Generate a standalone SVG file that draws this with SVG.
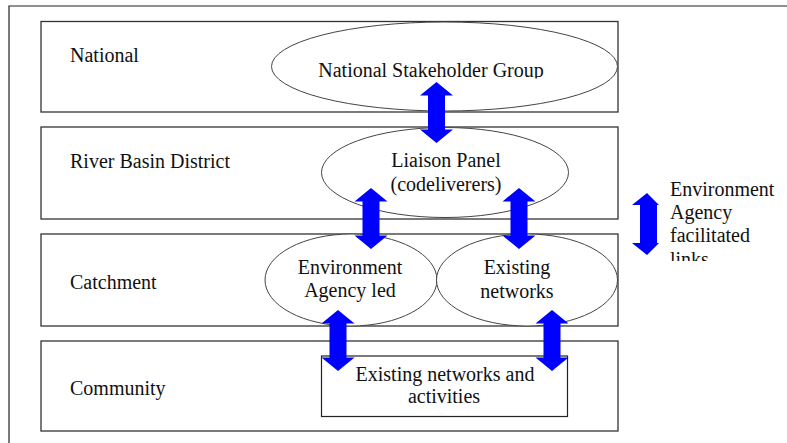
<svg xmlns="http://www.w3.org/2000/svg" width="787" height="443" viewBox="0 0 787 443">
<style>
  .band { fill: #fff; stroke: #333; stroke-width: 1.3; }
  .ell { fill: #fff; stroke: #444; stroke-width: 1; }
  .box { fill: #fff; stroke: #222; stroke-width: 1.2; }
  text { font-family: "Liberation Serif", "Times New Roman", serif; font-size: 20px; fill: #111; }
  .c { text-anchor: middle; }
  .arr { fill: #0000ff; }
</style>
<defs>
  <path id="dbl" d="M0,0 L16.5,13.5 L8.5,13.5 L8.5,47.5 L16.5,47.5 L0,61 L-16.5,47.5 L-8.5,47.5 L-8.5,13.5 L-16.5,13.5 Z"/>
  <clipPath id="clipNSG"><rect x="0" y="0" width="787" height="78.5"/></clipPath>
  <clipPath id="clipLeg"><rect x="660" y="170" width="127" height="91"/></clipPath>
</defs>
<rect width="787" height="443" fill="#fff"/>
<g id="frame">
  <path d="M9,443 L9,6 L787,6" fill="none" stroke="#222" stroke-width="1.2"/>
</g>
<g id="national">
  <rect class="band" x="41" y="21.5" width="577" height="90.5"/>
  <text x="70" y="62">National</text>
</g>
<g id="rbd">
  <rect class="band" x="41" y="127" width="577" height="92"/>
  <text x="70" y="168">River Basin District</text>
</g>
<g id="catchment">
  <rect class="band" x="41" y="234" width="577" height="92"/>
  <text x="70" y="289">Catchment</text>
</g>
<g id="community">
  <rect class="band" x="41" y="341" width="577" height="90"/>
  <text x="70" y="395">Community</text>
</g>
<g id="nsg">
  <ellipse class="ell" cx="444.5" cy="66.5" rx="173" ry="44.5"/>
  <text class="c" x="431" y="77" clip-path="url(#clipNSG)">National Stakeholder Group</text>
</g>
<g id="liaison">
  <ellipse class="ell" cx="445" cy="172.5" rx="123.5" ry="45"/>
  <text class="c" x="446" y="167">Liaison Panel</text>
  <text class="c" x="446" y="191">(codeliverers)</text>
</g>
<g id="ea-led">
  <ellipse class="ell" cx="351" cy="280" rx="86" ry="46"/>
  <text class="c" x="350" y="274">Environment</text>
  <text class="c" x="350" y="297">Agency led</text>
</g>
<g id="existing">
  <ellipse class="ell" cx="527" cy="280" rx="90.5" ry="46"/>
  <text class="c" x="517" y="274">Existing</text>
  <text class="c" x="517" y="298">networks</text>
</g>
<g id="community-box">
  <rect class="box" x="321.5" y="356" width="246" height="60.5"/>
  <text class="c" x="445" y="381">Existing networks and</text>
  <text class="c" x="444" y="403">activities</text>
</g>
<g id="connectors">
  <use href="#dbl" class="arr" x="436.5" y="82"/>
  <use href="#dbl" class="arr" x="371" y="188"/>
  <use href="#dbl" class="arr" x="519" y="188"/>
  <use href="#dbl" class="arr" x="338" y="310"/>
  <use href="#dbl" class="arr" x="552" y="310"/>
</g>
<g id="legend">
  <path class="arr" d="M647,193 L659,205 L657,205 L657,243 L659,243 L647,255 L632,243 L640,243 L640,205 L632,205 Z"/>
  <g clip-path="url(#clipLeg)">
    <text x="670" y="196">Environment</text>
    <text x="670" y="219">Agency</text>
    <text x="670" y="242">facilitated</text>
    <text x="670" y="265.5">links</text>
  </g>
</g>
</svg>
